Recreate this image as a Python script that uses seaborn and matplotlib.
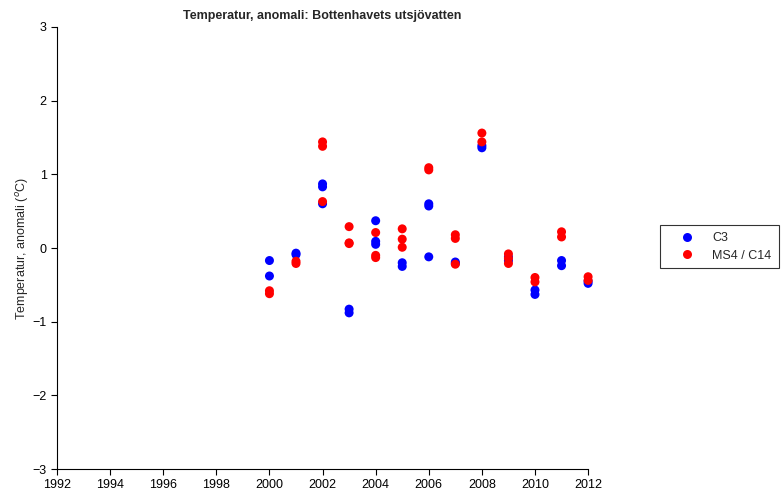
import matplotlib
matplotlib.use('agg')

import pandas as pd
import seaborn as sns
import matplotlib.pyplot as plt

sns.set_style('white')
plt.rcParams['font.family'] = ['Liberation Sans', 'DejaVu Sans']

# station C3 (blue)
c3_years = [2000, 2000, 2001, 2001, 2002, 2002, 2002, 2003, 2003, 2004, 2004, 2004,
            2005, 2005, 2006, 2006, 2006, 2007, 2007, 2008, 2008, 2009, 2009,
            2010, 2010, 2011, 2011, 2012, 2012]
c3_vals = [-0.17, -0.38, -0.07, -0.09, 0.87, 0.83, 0.60, -0.83, -0.88, 0.37, 0.09, 0.05,
           -0.20, -0.25, 0.60, 0.57, -0.12, -0.19, -0.21, 1.36, 1.39, -0.12, -0.17,
           -0.57, -0.63, -0.17, -0.24, -0.45, -0.48]

# station MS4 / C14 (red)
ms4_years = [2000, 2000, 2001, 2001, 2002, 2002, 2002, 2003, 2003, 2003, 2004, 2004, 2004,
             2005, 2005, 2005, 2006, 2006, 2007, 2007, 2007, 2008, 2008, 2009, 2009, 2009,
             2010, 2010, 2011, 2011, 2012, 2012]
ms4_vals = [-0.58, -0.62, -0.18, -0.21, 1.44, 1.38, 0.63, 0.29, 0.06, 0.07, 0.21, -0.10, -0.13,
            0.26, 0.12, 0.01, 1.09, 1.06, 0.18, 0.13, -0.22, 1.56, 1.44, -0.08, -0.14, -0.21,
            -0.40, -0.46, 0.22, 0.15, -0.39, -0.44]

labels = ['C3', 'MS4 / C14']
colors = ['#0000ff', '#ff0000']

df = pd.DataFrame({
    'year': c3_years + ms4_years,
    'val': c3_vals + ms4_vals,
    'station': [labels[0]] * len(c3_years) + [labels[1]] * len(ms4_years),
})

fig = plt.figure(figsize=(7.81, 4.99), dpi=100)
ax = fig.add_axes([0.073, 0.060, 0.680, 0.886])

sns.scatterplot(data=df, x='year', y='val', hue='station', hue_order=labels,
                palette=colors, s=42, linewidth=0, ax=ax, clip_on=False, zorder=3)

ax.set_xlim(1992, 2012)
ax.set_ylim(-3, 3)
ax.set_xticks(range(1992, 2013, 2))
ax.set_yticks(range(-3, 4))
ax.set_yticklabels(['\u22123', '\u22122', '\u22121', '0', '1', '2', '3'])
ax.tick_params(direction='out', length=4, width=0.8, labelsize=9, colors='black',
               left=True, bottom=True)
sns.despine(ax=ax)
for s in ['left', 'bottom']:
    ax.spines[s].set_color('black')
    ax.spines[s].set_linewidth(0.8)

ax.set_xlabel('')
ax.set_ylabel('Temperatur, anomali ($^{o}$C)', fontsize=9, labelpad=1)
ax.set_title('Temperatur, anomali: Bottenhavets utsjövatten', fontsize=9,
             fontweight='bold', pad=6)

leg = ax.legend(loc='upper left', bbox_to_anchor=(0.845, 0.549),
                bbox_transform=fig.transFigure, fontsize=9, frameon=True,
                fancybox=False, edgecolor='black', borderpad=0.55,
                handlelength=3.3, handletextpad=0.35, borderaxespad=0,
                labelspacing=0.45)
leg.get_frame().set_linewidth(0.8)
leg.set_title(None)

fig.savefig('out.png', dpi=100)
